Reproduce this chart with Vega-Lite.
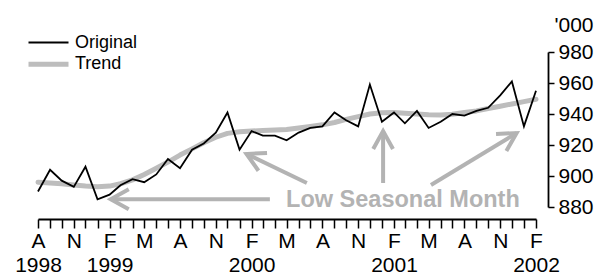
{
  "$schema": "https://vega.github.io/schema/vega-lite/v6.json",
  "width": 498,
  "height": 155,
  "autosize": "none",
  "padding": {"left": 38, "top": 52, "right": 64, "bottom": 68},
  "background": "white",
  "config": {"view": {"stroke": null}, "font": "Liberation Sans"},
  "datasets": {
    "series": [
      {"date": "1998-08-01", "Original": 890, "Trend": 896},
      {"date": "1998-09-01", "Original": 904, "Trend": 895.5},
      {"date": "1998-10-01", "Original": 897, "Trend": 895},
      {"date": "1998-11-01", "Original": 893, "Trend": 894.2},
      {"date": "1998-12-01", "Original": 906, "Trend": 893.5},
      {"date": "1999-01-01", "Original": 885, "Trend": 893},
      {"date": "1999-02-01", "Original": 888, "Trend": 893.5},
      {"date": "1999-03-01", "Original": 894, "Trend": 895},
      {"date": "1999-04-01", "Original": 898, "Trend": 897.5},
      {"date": "1999-05-01", "Original": 896, "Trend": 901},
      {"date": "1999-06-01", "Original": 901, "Trend": 905},
      {"date": "1999-07-01", "Original": 911, "Trend": 909},
      {"date": "1999-08-01", "Original": 905, "Trend": 913.5},
      {"date": "1999-09-01", "Original": 917, "Trend": 917.5},
      {"date": "1999-10-01", "Original": 921, "Trend": 921.5},
      {"date": "1999-11-01", "Original": 928, "Trend": 925},
      {"date": "1999-12-01", "Original": 941, "Trend": 927.5},
      {"date": "2000-01-01", "Original": 917, "Trend": 928.5},
      {"date": "2000-02-01", "Original": 929, "Trend": 929},
      {"date": "2000-03-01", "Original": 926, "Trend": 929.3},
      {"date": "2000-04-01", "Original": 926, "Trend": 929.6},
      {"date": "2000-05-01", "Original": 923, "Trend": 930},
      {"date": "2000-06-01", "Original": 928, "Trend": 931},
      {"date": "2000-07-01", "Original": 931, "Trend": 932},
      {"date": "2000-08-01", "Original": 932, "Trend": 933},
      {"date": "2000-09-01", "Original": 941, "Trend": 934.5},
      {"date": "2000-10-01", "Original": 936, "Trend": 936.5},
      {"date": "2000-11-01", "Original": 932, "Trend": 938.3},
      {"date": "2000-12-01", "Original": 959, "Trend": 940},
      {"date": "2001-01-01", "Original": 935, "Trend": 940.8},
      {"date": "2001-02-01", "Original": 941, "Trend": 941},
      {"date": "2001-03-01", "Original": 934, "Trend": 940.5},
      {"date": "2001-04-01", "Original": 942, "Trend": 940},
      {"date": "2001-05-01", "Original": 931, "Trend": 939.5},
      {"date": "2001-06-01", "Original": 935, "Trend": 939.3},
      {"date": "2001-07-01", "Original": 940, "Trend": 939.8},
      {"date": "2001-08-01", "Original": 939, "Trend": 941},
      {"date": "2001-09-01", "Original": 942, "Trend": 942},
      {"date": "2001-10-01", "Original": 944, "Trend": 943.5},
      {"date": "2001-11-01", "Original": 952, "Trend": 945},
      {"date": "2001-12-01", "Original": 961, "Trend": 946.5},
      {"date": "2002-01-01", "Original": 932, "Trend": 948},
      {"date": "2002-02-01", "Original": 955, "Trend": 949.5}
    ],
    "arrows": [
      {"date": "2000-03-19", "value": 885, "date2": "1999-02-04", "value2": 885, "dir": "w"},
      {"date": "2000-06-22", "value": 895.5, "date2": "2000-01-19", "value2": 914.2, "dir": "nw"},
      {"date": "2001-01-04", "value": 895.5, "date2": "2001-01-04", "value2": 929, "dir": "n"},
      {"date": "2001-05-07", "value": 894.2, "date2": "2001-12-13", "value2": 927.7, "dir": "ne"}
    ],
    "notes": [
      {"date": "2001-02-24", "value": 884.5, "label": "Low Seasonal Month"}
    ]
  },
  "encoding": {
    "x": {
      "field": "date",
      "type": "temporal",
      "scale": {
        "type": "utc",
        "domain": [
          {"year": 1998, "month": 8, "date": 1, "utc": true},
          {"year": 2002, "month": 2, "date": 1, "utc": true}
        ]
      },
      "axis": {
        "orient": "bottom",
        "offset": 12,
        "title": null,
        "grid": false,
        "tickCount": {"interval": "month", "step": 1},
        "tickSize": 9,
        "tickWidth": 1.5,
        "tickColor": "black",
        "domainColor": "black",
        "domainWidth": 1.8,
        "labelColor": "black",
        "labelFontSize": 21,
        "labelLineHeight": 24,
        "labelPadding": 2,
        "labelOverlap": false,
        "labelFlush": false,
        "labelBound": false,
        "labelExpr": "[(utcmonth(datum.value)==7?'A':utcmonth(datum.value)==10?'N':utcmonth(datum.value)==1?'F':utcmonth(datum.value)==4?'M':''), ((utcmonth(datum.value)==1 || (utcmonth(datum.value)==7 && utcyear(datum.value)==1998)) ? ''+utcyear(datum.value) : '')]"
      }
    },
    "y": {
      "field": "value",
      "type": "quantitative",
      "scale": {"domain": [880, 980], "nice": false, "zero": false},
      "axis": {
        "orient": "right",
        "offset": 12,
        "grid": false,
        "values": [880, 900, 920, 940, 960, 980],
        "tickSize": 6,
        "tickWidth": 1.5,
        "tickColor": "black",
        "domainColor": "black",
        "domainWidth": 1.8,
        "labelColor": "black",
        "labelFontSize": 21,
        "labelPadding": 4,
        "title": "'000",
        "titleAngle": 0,
        "titleAlign": "left",
        "titleBaseline": "middle",
        "titleX": 6,
        "titleY": -27,
        "titleFontSize": 21,
        "titleFontWeight": "normal",
        "titleColor": "black"
      }
    }
  },
  "layer": [
    {
      "data": {"name": "series"},
      "transform": [
        {"fold": ["Original", "Trend"], "as": ["series", "value"]},
        {"filter": "datum.series == 'Trend'"}
      ],
      "mark": {"type": "line", "strokeCap": "round", "strokeJoin": "round"},
      "encoding": {
        "color": {
          "field": "series", "type": "nominal",
          "scale": {"domain": ["Original", "Trend"], "range": ["#000000", "#bdbdbd"]},
          "legend": {
            "title": null, "orient": "none", "legendX": 0, "legendY": -18.5,
            "symbolType": "M-2.5,0H2.5", "symbolSize": 256, "labelFontSize": 18,
            "labelColor": "black", "labelOffset": 16, "rowPadding": 2.2, "padding": 0
          }
        },
        "strokeWidth": {
          "field": "series", "type": "nominal",
          "scale": {"domain": ["Original", "Trend"], "range": [1.8, 5]},
          "legend": {
            "title": null, "orient": "none", "legendX": 0, "legendY": -18.5,
            "symbolType": "M-2.5,0H2.5", "symbolSize": 256, "labelFontSize": 18,
            "labelColor": "black", "labelOffset": 16, "rowPadding": 2.2, "padding": 0
          }
        }
      }
    },
    {
      "data": {"name": "series"},
      "transform": [
        {"fold": ["Original", "Trend"], "as": ["series", "value"]},
        {"filter": "datum.series == 'Original'"}
      ],
      "mark": {"type": "line", "strokeJoin": "miter"},
      "encoding": {
        "color": {"field": "series", "type": "nominal"},
        "strokeWidth": {"field": "series", "type": "nominal"}
      }
    },
    {
      "data": {"name": "arrows"},
      "mark": {"type": "rule", "color": "#b3b3b3", "strokeWidth": 4, "strokeCap": "butt"},
      "encoding": {
        "x2": {"field": "date2"},
        "y2": {"field": "value2"}
      }
    },
    {
      "data": {"name": "arrows"},
      "mark": {
        "type": "point", "shape": "M-1,-0.55L0,0L-1,0.55", "filled": false,
        "stroke": "#b3b3b3", "strokeWidth": 4, "size": 1296, "opacity": 1, "strokeJoin": "miter"
      },
      "encoding": {
        "x": {"field": "date2", "type": "temporal"},
        "y": {"field": "value2", "type": "quantitative"},
        "angle": {
          "field": "dir", "type": "nominal",
          "scale": {"type": "ordinal", "domain": ["w", "nw", "n", "ne"], "range": [180, 205.8, 270, 328.5]},
          "legend": null
        }
      }
    },
    {
      "data": {"name": "notes"},
      "mark": {
        "type": "text", "fontWeight": "bold", "fontSize": 23.5, "color": "#b3b3b3",
        "align": "center", "baseline": "middle"
      },
      "encoding": {"text": {"field": "label"}}
    }
  ]
}
